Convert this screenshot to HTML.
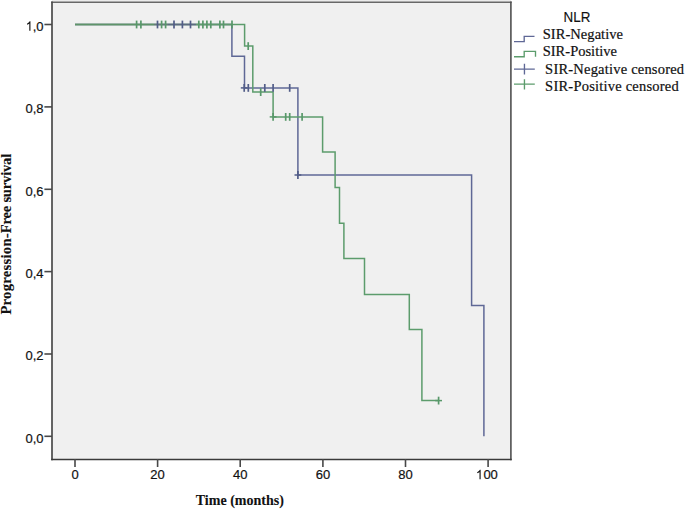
<!DOCTYPE html>
<html><head><meta charset="utf-8"><style>
html,body{margin:0;padding:0;background:#fff;width:685px;height:509px;overflow:hidden}
svg{display:block}
.t{font-family:"Liberation Sans",sans-serif;font-size:13px;fill:#111;stroke:#111;stroke-width:0.2px}
.n{font-family:"Liberation Sans",sans-serif;font-size:14.5px;fill:#111;stroke:#111;stroke-width:0.15px}
.b{font-family:"Liberation Serif",serif;font-weight:bold;font-size:14px;fill:#111;stroke:#111;stroke-width:0.1px}
.yt{font-size:14.6px}
.l{font-family:"Liberation Serif",serif;font-size:14.5px;fill:#111;stroke:#111;stroke-width:0.2px}
</style></head><body>
<svg width="685" height="509" viewBox="0 0 685 509" xmlns="http://www.w3.org/2000/svg">
<rect x="52" y="0" width="459" height="459.5" fill="#f0f0f0"/>
<rect x="52" y="0" width="459" height="1.4" fill="#ebebeb"/>
<path d="M51.2 2.2H511.7" stroke="#686868" stroke-width="1.5"/>
<path d="M52 1.5V460.3" stroke="#4a4a4a" stroke-width="1.7"/>
<path d="M510.9 1.5V460.3" stroke="#505050" stroke-width="1.6"/>
<path d="M51.2 459.5H511.7" stroke="#3a3a3a" stroke-width="1.6"/>
<path d="M44.4 24.5H52" stroke="#484848" stroke-width="1.6"/>
<path d="M44.4 106.9H52" stroke="#484848" stroke-width="1.6"/>
<path d="M44.4 189.3H52" stroke="#484848" stroke-width="1.6"/>
<path d="M44.4 271.6H52" stroke="#484848" stroke-width="1.6"/>
<path d="M44.4 354.0H52" stroke="#484848" stroke-width="1.6"/>
<path d="M44.4 436.3H52" stroke="#484848" stroke-width="1.6"/>
<path d="M75.0 459V467" stroke="#484848" stroke-width="1.6"/>
<path d="M157.6 459V467" stroke="#484848" stroke-width="1.6"/>
<path d="M240.2 459V467" stroke="#484848" stroke-width="1.6"/>
<path d="M322.9 459V467" stroke="#484848" stroke-width="1.6"/>
<path d="M405.5 459V467" stroke="#484848" stroke-width="1.6"/>
<path d="M488.1 459V467" stroke="#484848" stroke-width="1.6"/>
<path d="M75 24.5H231.9V56.3H244.5V87.9H297.9V175.0H471.6V305.6H483.9V436.3" fill="none" stroke="#5f6896" stroke-width="1.5"/>
<path d="M75 24.5H244.6V46.1H252.8V92.1H273.1V116.9H322.6V152.0H335.1V187.4H339.5V223.2H343.9V258.6H364.5V294.5H409.3V329.5H421.9V400.6H438.6" fill="none" stroke="#5c9c6c" stroke-width="1.5"/>
<path d="M75 24.5H154" fill="none" stroke="#5f9469" stroke-width="1.5"/>
<path d="M154 24.5H168" fill="none" stroke="#667a78" stroke-width="1.5"/>
<path d="M168 24.5H196" fill="none" stroke="#5f6b80" stroke-width="1.5"/>
<path d="M196 24.5H232" fill="none" stroke="#609a6e" stroke-width="1.5"/>
<path d="M157.5 20.6V28.4" stroke="#525d88" stroke-width="1.7"/>
<path d="M174.0 20.6V28.4" stroke="#525d88" stroke-width="1.7"/>
<path d="M182.4 20.6V28.4" stroke="#525d88" stroke-width="1.7"/>
<path d="M190.5 20.6V28.4" stroke="#525d88" stroke-width="1.7"/>
<path d="M240.8 87.9H247.6" stroke="#525d88" stroke-width="1.5"/><path d="M244.2 84.0V91.8" stroke="#525d88" stroke-width="1.7"/>
<path d="M248.3 84.0V91.8" stroke="#525d88" stroke-width="1.7"/>
<path d="M264.8 84.0V91.8" stroke="#525d88" stroke-width="1.7"/>
<path d="M273.1 84.0V91.8" stroke="#525d88" stroke-width="1.7"/>
<path d="M289.7 84.0V91.8" stroke="#525d88" stroke-width="1.7"/>
<path d="M294.5 175.0H301.3" stroke="#525d88" stroke-width="1.5"/><path d="M297.9 171.1V178.9" stroke="#525d88" stroke-width="1.7"/>
<path d="M136.6 20.6V28.4" stroke="#58986a" stroke-width="1.7"/>
<path d="M140.9 20.6V28.4" stroke="#58986a" stroke-width="1.7"/>
<path d="M161.6 20.6V28.4" stroke="#58986a" stroke-width="1.7"/>
<path d="M165.6 20.6V28.4" stroke="#58986a" stroke-width="1.7"/>
<path d="M198.8 20.6V28.4" stroke="#58986a" stroke-width="1.7"/>
<path d="M202.9 20.6V28.4" stroke="#58986a" stroke-width="1.7"/>
<path d="M206.9 20.6V28.4" stroke="#58986a" stroke-width="1.7"/>
<path d="M210.8 20.6V28.4" stroke="#58986a" stroke-width="1.7"/>
<path d="M219.9 20.6V28.4" stroke="#58986a" stroke-width="1.7"/>
<path d="M223.5 20.6V28.4" stroke="#58986a" stroke-width="1.7"/>
<path d="M232.0 20.6V28.4" stroke="#58986a" stroke-width="1.7"/>
<path d="M248.2 42.2V50.0" stroke="#58986a" stroke-width="1.7"/>
<path d="M260.7 88.2V96.0" stroke="#58986a" stroke-width="1.7"/>
<path d="M269.7 116.9H276.5" stroke="#58986a" stroke-width="1.5"/><path d="M273.1 113.0V120.8" stroke="#58986a" stroke-width="1.7"/>
<path d="M285.7 113.0V120.8" stroke="#58986a" stroke-width="1.7"/>
<path d="M289.7 113.0V120.8" stroke="#58986a" stroke-width="1.7"/>
<path d="M302.1 113.0V120.8" stroke="#58986a" stroke-width="1.7"/>
<path d="M435.2 400.6H442.0" stroke="#58986a" stroke-width="1.5"/><path d="M438.6 396.7V404.5" stroke="#58986a" stroke-width="1.7"/>
<path d="M763 0H583V1147Q518 1085 412.5 1023Q307 961 223 930V1104Q374 1175 487 1276Q600 1377 647 1472H763V0Z" transform="translate(25.60 30.70) scale(0.006348 -0.006348)" fill="#111"/>
<text x="43.5" y="30.7" text-anchor="end" class="t">,0</text>
<text x="43.5" y="113.1" text-anchor="end" class="t">0,8</text>
<text x="43.5" y="195.5" text-anchor="end" class="t">0,6</text>
<text x="43.5" y="277.8" text-anchor="end" class="t">0,4</text>
<text x="43.5" y="360.2" text-anchor="end" class="t">0,2</text>
<text x="43.5" y="442.5" text-anchor="end" class="t">0,0</text>
<text x="75.0" y="479.2" text-anchor="middle" class="t">0</text>
<text x="157.6" y="479.2" text-anchor="middle" class="t">20</text>
<text x="240.2" y="479.2" text-anchor="middle" class="t">40</text>
<text x="322.9" y="479.2" text-anchor="middle" class="t">60</text>
<text x="405.5" y="479.2" text-anchor="middle" class="t">80</text>
<path d="M763 0H583V1147Q518 1085 412.5 1023Q307 961 223 930V1104Q374 1175 487 1276Q600 1377 647 1472H763V0Z" transform="translate(475.80 479.20) scale(0.006348 -0.006348)" fill="#111"/>
<text x="483.4" y="479.2" class="t">00</text>
<text x="239.8" y="504.7" text-anchor="middle" class="b">Time (months)</text>
<g transform="translate(10.8 0) rotate(-90)"><text x="-314.6" y="0" class="b yt" textLength="81.3" lengthAdjust="spacing">Progression-</text><text x="-233.3" y="0" class="b yt" textLength="79.5" lengthAdjust="spacing">Free survival</text></g>
<text x="577" y="21.8" text-anchor="middle" class="n" textLength="26.8" lengthAdjust="spacingAndGlyphs">NLR</text>
<path d="M514 41.6H524.2V36.3H534.5" fill="none" stroke="#5f6896" stroke-width="1.35"/>
<path d="M514 56.75H524.2V51.3H535.5V56.75" fill="none" stroke="#5c9c6c" stroke-width="1.35"/>
<path d="M514 69.1H534.8M524.45 63.8V74.4" fill="none" stroke="#5f6896" stroke-width="1.35"/>
<path d="M514 84.1H534.8M524.45 79.3V89.5" fill="none" stroke="#5c9c6c" stroke-width="1.35"/>
<text x="542.7" y="38.7" class="l" textLength="80.3" lengthAdjust="spacing">SIR-Negative</text>
<text x="542.7" y="55.5" class="l" textLength="74.2" lengthAdjust="spacing">SIR-Positive</text>
<text x="545.1" y="73.5" class="l" textLength="139.0" lengthAdjust="spacing">SIR-Negative censored</text>
<text x="545.1" y="90.5" class="l" textLength="133.6" lengthAdjust="spacing">SIR-Positive censored</text>
</svg>
</body></html>
